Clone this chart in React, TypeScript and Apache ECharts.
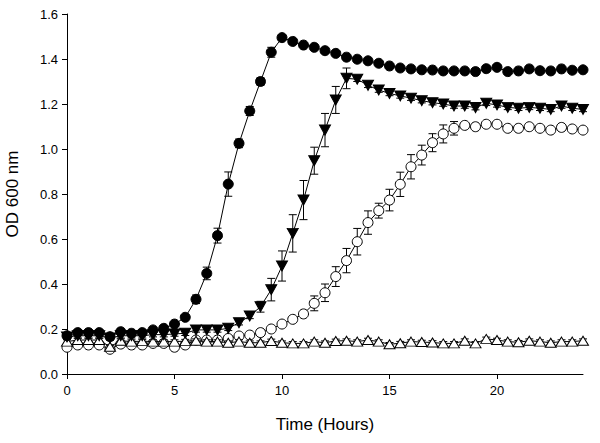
import React, { useEffect, useRef } from "react";
import * as echarts from "echarts";

// Time points (hours), every 0.5 h from 0 to 24
const hours: number[] = [
  0, 0.5, 1, 1.5, 2, 2.5, 3, 3.5, 4, 4.5, 5, 5.5, 6, 6.5, 7, 7.5, 8, 8.5, 9, 9.5,
  10, 10.5, 11, 11.5, 12, 12.5, 13, 13.5, 14, 14.5, 15, 15.5, 16, 16.5, 17, 17.5,
  18, 18.5, 19, 19.5, 20, 20.5, 21, 21.5, 22, 22.5, 23, 23.5, 24,
];

// Filled circles
const filledCircle: number[] = [
  0.17, 0.184, 0.184, 0.184, 0.166, 0.188, 0.181, 0.184, 0.196, 0.203, 0.222, 0.252,
  0.332, 0.447, 0.615, 0.844, 1.025, 1.169, 1.3, 1.43, 1.495, 1.478, 1.462, 1.452,
  1.437, 1.425, 1.408, 1.399, 1.392, 1.381, 1.369, 1.36, 1.356, 1.352, 1.351, 1.347,
  1.347, 1.347, 1.344, 1.357, 1.363, 1.344, 1.347, 1.356, 1.348, 1.347, 1.356, 1.35,
  1.352,
];
const filledCircleErr: number[] = [
  0.01, 0.01, 0.01, 0.01, 0.01, 0.01, 0.01, 0.01, 0.01, 0.01, 0.01, 0.01,
  0.019, 0.028, 0.033, 0.054, 0.019, 0.02, 0.017, 0.022, 0.01, 0.01, 0.01, 0.01,
  0.01, 0.01, 0.01, 0.01, 0.01, 0.01, 0.01, 0.01, 0.01, 0.01, 0.01, 0.01,
  0.01, 0.01, 0.01, 0.01, 0.01, 0.01, 0.01, 0.01, 0.01, 0.01, 0.01, 0.01,
  0.01,
];

// Filled down-triangles
const filledTriangle: number[] = [
  0.165, 0.17, 0.17, 0.17, 0.16, 0.17, 0.17, 0.17, 0.175, 0.175, 0.178, 0.181,
  0.196, 0.196, 0.196, 0.203, 0.228, 0.258, 0.299, 0.375, 0.48, 0.625, 0.773, 0.948,
  1.084, 1.218, 1.314, 1.31, 1.283, 1.262, 1.247, 1.236, 1.226, 1.215, 1.206, 1.2,
  1.191, 1.191, 1.184, 1.203, 1.196, 1.185, 1.181, 1.185, 1.181, 1.176, 1.191, 1.181,
  1.176,
];
const filledTriangleErr: number[] = [
  0.01, 0.01, 0.01, 0.01, 0.01, 0.01, 0.01, 0.01, 0.01, 0.01, 0.01, 0.01,
  0.01, 0.01, 0.01, 0.01, 0.01, 0.012, 0.024, 0.05, 0.067, 0.083, 0.087, 0.06,
  0.074, 0.06, 0.046, 0.01, 0.01, 0.01, 0.01, 0.01, 0.01, 0.01, 0.01, 0.01,
  0.01, 0.01, 0.01, 0.01, 0.01, 0.01, 0.01, 0.01, 0.01, 0.01, 0.01, 0.01,
  0.01,
];

// Open circles
const openCircle: number[] = [
  0.119, 0.129, 0.129, 0.129, 0.11, 0.133, 0.129, 0.129, 0.136, 0.136, 0.119, 0.129,
  0.151, 0.151, 0.151, 0.158, 0.169, 0.173, 0.184, 0.2, 0.222, 0.243, 0.267, 0.314,
  0.361, 0.433, 0.504, 0.588, 0.673, 0.726, 0.773, 0.843, 0.921, 0.973, 1.028, 1.067,
  1.092, 1.105, 1.099, 1.11, 1.11, 1.092, 1.092, 1.099, 1.092, 1.084, 1.096, 1.089,
  1.084,
];
const openCircleErr: number[] = [
  0.01, 0.01, 0.01, 0.01, 0.01, 0.01, 0.01, 0.01, 0.01, 0.01, 0.01, 0.01,
  0.01, 0.01, 0.01, 0.01, 0.01, 0.01, 0.01, 0.01, 0.01, 0.01, 0.01, 0.033,
  0.039, 0.044, 0.054, 0.059, 0.052, 0.033, 0.048, 0.054, 0.054, 0.044, 0.04, 0.04,
  0.03, 0.01, 0.01, 0.01, 0.01, 0.01, 0.01, 0.01, 0.01, 0.01, 0.01, 0.01,
  0.01,
];

// Open up-triangles
const openTriangle: number[] = [
  0.144, 0.151, 0.151, 0.151, 0.121, 0.148, 0.144, 0.146, 0.144, 0.144, 0.144, 0.146,
  0.148, 0.144, 0.144, 0.139, 0.144, 0.139, 0.139, 0.147, 0.139, 0.136, 0.136, 0.144,
  0.139, 0.147, 0.148, 0.144, 0.151, 0.144, 0.132, 0.137, 0.144, 0.142, 0.14, 0.136,
  0.136, 0.148, 0.136, 0.156, 0.151, 0.144, 0.141, 0.148, 0.144, 0.139, 0.144, 0.144,
  0.148,
];
const openTriangleErr: number[] = hours.map(() => 0.008);

const xTicks: number[] = [0, 5, 10, 15, 20];

const FONT = "'Liberation Sans', Arial, sans-serif";

function pairs(vals: number[]) {
  return hours.map((h, i) => [h, vals[i]]);
}
function errData(vals: number[], errs: number[]) {
  return hours.map((h, i) => [h, vals[i] - errs[i], vals[i] + errs[i]]);
}

function errorSeries(vals: number[], errs: number[], z: number) {
  return {
    type: "custom",
    z,
    silent: true,
    encode: { x: 0, y: [1, 2] },
    data: errData(vals, errs),
    renderItem: (params: any, api: any) => {
      const x = api.value(0);
      const lo = api.coord([x, api.value(1)]);
      const hi = api.coord([x, api.value(2)]);
      const w = 4;
      const style = { stroke: "#000", lineWidth: 1, fill: "none" };
      return {
        type: "group",
        children: [
          { type: "line", shape: { x1: lo[0], y1: lo[1], x2: hi[0], y2: hi[1] }, style },
          { type: "line", shape: { x1: lo[0] - w, y1: lo[1], x2: lo[0] + w, y2: lo[1] }, style },
          { type: "line", shape: { x1: hi[0] - w, y1: hi[1], x2: hi[0] + w, y2: hi[1] }, style },
        ],
      };
    },
  };
}

function lineSeries(
  name: string,
  vals: number[],
  symbol: string,
  size: any,
  fill: string,
  z: number,
  rotate = 0
) {
  return {
    name,
    type: "line",
    z,
    data: pairs(vals),
    symbol,
    symbolSize: size,
    symbolRotate: rotate,
    showAllSymbol: true,
    lineStyle: { color: "#000", width: 1 },
    itemStyle: { color: fill, borderColor: "#000", borderWidth: 1 },
  };
}

export default function App() {
  const ref = useRef<HTMLDivElement>(null);
  useEffect(() => {
    if (!ref.current) return;
    const chart = echarts.init(ref.current, null, { renderer: "svg" });
    chart.setOption({
      animation: false,
      backgroundColor: "#fff",
      grid: { left: 67, right: 17, top: 14, bottom: 69, containLabel: false, outerBoundsMode: "none" },
      xAxis: {
        type: "value",
        min: 0,
        max: 24,
        interval: 5,
        name: "Time (Hours)",
        nameLocation: "middle",
        nameGap: 42,
        nameTextStyle: { fontFamily: FONT, fontSize: 17, color: "#000" },
        axisLine: { lineStyle: { color: "#000", width: 1 } },
        axisTick: { show: true, length: 5, customValues: xTicks, lineStyle: { color: "#000" } },
        axisLabel: {
          customValues: xTicks,
          fontFamily: FONT,
          fontSize: 13,
          color: "#000",
          margin: 10,
        },
        splitLine: { show: false },
      },
      yAxis: {
        type: "value",
        min: 0,
        max: 1.6,
        interval: 0.2,
        name: "OD 600 nm",
        nameLocation: "middle",
        nameGap: 46,
        nameTextStyle: { fontFamily: FONT, fontSize: 17, color: "#000" },
        axisLine: { show: true, lineStyle: { color: "#000", width: 1 } },
        axisTick: { show: true, length: 5, lineStyle: { color: "#000" } },
        axisLabel: {
          fontFamily: FONT,
          fontSize: 13,
          color: "#000",
          margin: 9,
          formatter: (v: number) => v.toFixed(1),
        },
        splitLine: { show: false },
      },
      series: [
        errorSeries(openCircle, openCircleErr, 1),
        lineSeries("open circle", openCircle, "circle", 10, "#fff", 2),
        errorSeries(openTriangle, openTriangleErr, 3),
        lineSeries("open triangle", openTriangle, "triangle", [11, 9], "#fff", 4),
        errorSeries(filledTriangle, filledTriangleErr, 5),
        lineSeries("filled triangle", filledTriangle, "triangle", [11, 10], "#000", 6, 180),
        errorSeries(filledCircle, filledCircleErr, 7),
        lineSeries("filled circle", filledCircle, "circle", 10, "#000", 8),
      ],
    });
    return () => chart.dispose();
  }, []);
  return <div ref={ref} style={{ width: 600, height: 443, position: "absolute", left: 0, top: 0 }} />;
}
